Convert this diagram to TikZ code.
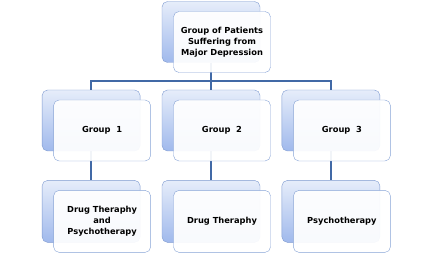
\documentclass[tikz,border=0pt]{standalone}
\usepackage{fontspec}
\setmainfont{DejaVu Sans}
\usepackage{xcolor}
\usetikzlibrary{positioning}

\definecolor{linkblue}{HTML}{4169A6}
\definecolor{backtop}{HTML}{E6EDFA}
\definecolor{backbot}{HTML}{A0B9EC}
\definecolor{backline}{HTML}{7E9AD0}
\definecolor{frontline}{HTML}{87A3D6}

\begin{document}
\begin{tikzpicture}[
  x=1pt, y=1pt,
  font=\bfseries\fontsize{8.3}{11}\selectfont,
  back/.style={draw=backline, rounded corners=5.5pt, top color=backtop, bottom color=backbot, minimum width=98pt, minimum height=61pt, inner sep=0pt},
  front/.style={draw=frontline, rounded corners=5.5pt, fill=white, fill opacity=0.93, text opacity=1, minimum width=97pt, minimum height=61pt, align=center, inner sep=2pt},
  link/.style={draw=linkblue, line width=1.7pt}
]
\useasboundingbox (0,0) rectangle (433,254);
% back boxes
\node[back] (pat) at (211,222) {};
\node[back] (grp2) at (211,133.5) {};
\node[back, left=21.5pt of grp2] (grp1) {};
\node[back, right=21.5pt of grp2] (grp3) {};
\node[back, below=29pt of grp1, minimum height=62pt] (trt1) {};
\node[back, below=29pt of grp2, minimum height=62pt] (trt2) {};
\node[back, below=29pt of grp3, minimum height=62pt] (trt3) {};
% connectors
\draw[link] (pat.south) -- ++(0,-18) coordinate (bus);
\draw[link] (bus) -| (grp1.north);
\draw[link] (bus) -- (grp2.north);
\draw[link] (bus) -| (grp3.north);
\draw[link] (grp1.south) -- (trt1.north);
\draw[link] (grp2.south) -- (trt2.north);
\draw[link] (grp3.south) -- (trt3.north);
% front boxes
\node[front] (patf) at ([shift={(11pt,-10pt)}]pat.center) {Group of Patients\\Suffering from\\Major Depression};
\node[front] (grp1f) at ([shift={(11pt,-10pt)}]grp1.center) {Group\ \ 1};
\node[front] (grp2f) at ([shift={(11pt,-10pt)}]grp2.center) {Group\ \ 2};
\node[front] (grp3f) at ([shift={(11pt,-10pt)}]grp3.center) {Group\ \ 3};
\node[front, minimum height=62pt] (trt1f) at ([shift={(11pt,-10pt)}]trt1.center) {Drug Theraphy\\and\\Psychotherapy};
\node[front, minimum height=62pt] (trt2f) at ([shift={(11pt,-10pt)}]trt2.center) {Drug Theraphy};
\node[front, minimum height=62pt] (trt3f) at ([shift={(11pt,-10pt)}]trt3.center) {Psychotherapy};
\end{tikzpicture}
\end{document}
